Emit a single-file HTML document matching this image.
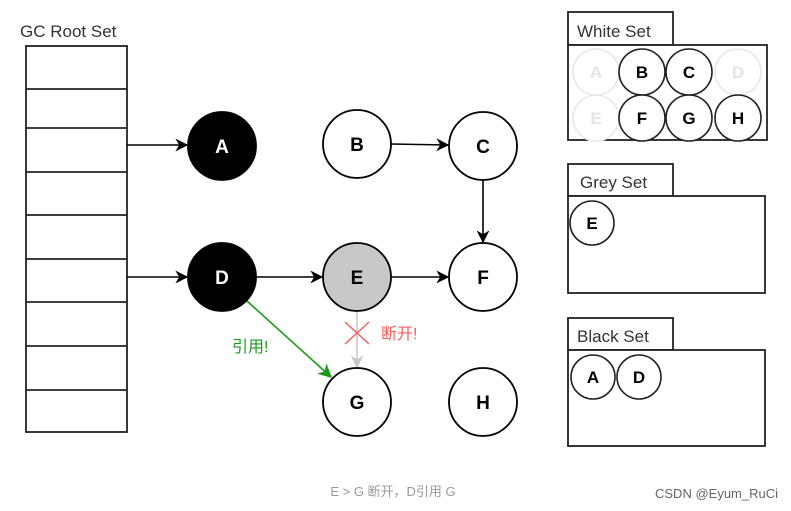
<!DOCTYPE html>
<html><head><meta charset="utf-8"><style>
html,body{margin:0;padding:0;background:#fff}
svg{display:block}
text{font-family:"Liberation Sans","Noto Sans CJK SC",sans-serif}
</style></head><body>
<svg width="791" height="511" viewBox="0 0 791 511" xmlns="http://www.w3.org/2000/svg">
<defs>
<marker id="ab" viewBox="0 0 10 10" refX="9" refY="5" markerWidth="13" markerHeight="13" orient="auto" markerUnits="userSpaceOnUse"><path d="M0,0 L10,5 L0,10 L3,5 z" fill="#000"/></marker>
<marker id="ag" viewBox="0 0 10 10" refX="9" refY="5" markerWidth="14" markerHeight="14" orient="auto" markerUnits="userSpaceOnUse"><path d="M0,0 L10,5 L0,10 L3,5 z" fill="#1a9a1a"/></marker>
<marker id="agr" viewBox="0 0 10 10" refX="9" refY="5" markerWidth="13" markerHeight="13" orient="auto" markerUnits="userSpaceOnUse"><path d="M0,0 L10,5 L0,10 L3,5 z" fill="#c8c8c8"/></marker>
</defs>
<text x="20" y="37" font-size="17" fill="#333">GC Root Set</text>
<g stroke="#222" stroke-width="1.8" fill="none">
<rect x="26" y="46" width="101" height="386"/>
<line x1="26" y1="89" x2="127" y2="89"/>
<line x1="26" y1="128" x2="127" y2="128"/>
<line x1="26" y1="172" x2="127" y2="172"/>
<line x1="26" y1="215" x2="127" y2="215"/>
<line x1="26" y1="259" x2="127" y2="259"/>
<line x1="26" y1="302" x2="127" y2="302"/>
<line x1="26" y1="346" x2="127" y2="346"/>
<line x1="26" y1="390" x2="127" y2="390"/>
</g>
<g stroke="#000" stroke-width="1.6">
<line x1="127" y1="145" x2="187" y2="145" marker-end="url(#ab)"/>
<line x1="127" y1="277" x2="187" y2="277" marker-end="url(#ab)"/>
<line x1="391" y1="144" x2="448" y2="145" marker-end="url(#ab)"/>
<line x1="483" y1="179" x2="483" y2="242" marker-end="url(#ab)"/>
<line x1="256" y1="277" x2="322" y2="277" marker-end="url(#ab)"/>
<line x1="391" y1="277" x2="448" y2="277" marker-end="url(#ab)"/>
</g>
<line x1="357" y1="311" x2="357" y2="367" stroke="#c8c8c8" stroke-width="1.6" marker-end="url(#agr)"/>
<line x1="247" y1="301" x2="331" y2="377" stroke="#1a9a1a" stroke-width="1.6" marker-end="url(#ag)"/>
<g stroke="#f06060" stroke-width="1.5"><line x1="345" y1="322" x2="369" y2="344"/><line x1="369" y1="322" x2="345" y2="344"/></g>
<text x="381" y="339" font-size="16" fill="#f06060">断开!</text>
<text x="232" y="352" font-size="16" fill="#1a9a1a">引用!</text>
<g font-size="19" font-weight="bold" text-anchor="middle">
<circle cx="222" cy="146" r="34" fill="#000" stroke="#000" stroke-width="1.8"/><text x="222" y="153" fill="#fff">A</text>
<circle cx="357" cy="144" r="34" fill="#fff" stroke="#000" stroke-width="1.8"/><text x="357" y="151">B</text>
<circle cx="483" cy="146" r="34" fill="#fff" stroke="#000" stroke-width="1.8"/><text x="483" y="153">C</text>
<circle cx="222" cy="277" r="34" fill="#000" stroke="#000" stroke-width="1.8"/><text x="222" y="284" fill="#fff">D</text>
<circle cx="357" cy="277" r="34" fill="#c8c8c8" stroke="#000" stroke-width="1.8"/><text x="357" y="284">E</text>
<circle cx="483" cy="277" r="34" fill="#fff" stroke="#000" stroke-width="1.8"/><text x="483" y="284">F</text>
<circle cx="357" cy="402" r="34" fill="#fff" stroke="#000" stroke-width="1.8"/><text x="357" y="409">G</text>
<circle cx="483" cy="402" r="34" fill="#fff" stroke="#000" stroke-width="1.8"/><text x="483" y="409">H</text>
</g>
<g stroke="#222" stroke-width="1.8" fill="#fff">
<rect x="568" y="12" width="105" height="33"/>
<rect x="568" y="45" width="199" height="95"/>
<rect x="568" y="164" width="105" height="32"/>
<rect x="568" y="196" width="197" height="97"/>
<rect x="568" y="318" width="105" height="32"/>
<rect x="568" y="350" width="197" height="96"/>
</g>
<g font-size="17" fill="#333">
<text x="577" y="37">White Set</text>
<text x="580" y="188">Grey Set</text>
<text x="577" y="342">Black Set</text>
</g>
<g font-size="17" font-weight="bold" text-anchor="middle" stroke-width="1.6">
<circle cx="596" cy="72" r="23" fill="#fff" stroke="#e8e8e8"/><text x="596" y="78" fill="#e4e4e4">A</text>
<circle cx="642" cy="72" r="23" fill="#fff" stroke="#222"/><text x="642" y="78">B</text>
<circle cx="689" cy="72" r="23" fill="#fff" stroke="#222"/><text x="689" y="78">C</text>
<circle cx="738" cy="72" r="23" fill="#fff" stroke="#e8e8e8"/><text x="738" y="78" fill="#e4e4e4">D</text>
<circle cx="596" cy="118" r="23" fill="#fff" stroke="#e8e8e8"/><text x="596" y="124" fill="#e4e4e4">E</text>
<circle cx="642" cy="118" r="23" fill="#fff" stroke="#222"/><text x="642" y="124">F</text>
<circle cx="689" cy="118" r="23" fill="#fff" stroke="#222"/><text x="689" y="124">G</text>
<circle cx="738" cy="118" r="23" fill="#fff" stroke="#222"/><text x="738" y="124">H</text>
<circle cx="592" cy="223" r="22" fill="#fff" stroke="#222"/><text x="592" y="229">E</text>
<circle cx="593" cy="377" r="22" fill="#fff" stroke="#222"/><text x="593" y="383">A</text>
<circle cx="639" cy="377" r="22" fill="#fff" stroke="#222"/><text x="639" y="383">D</text>
</g>
<text x="393" y="496" font-size="13" fill="#999" text-anchor="middle">E &gt; G 断开，D引用 G</text>
<text x="778" y="498" font-size="13" fill="#666" text-anchor="end">CSDN @Eyum_RuCi</text>
</svg>
</body></html>
